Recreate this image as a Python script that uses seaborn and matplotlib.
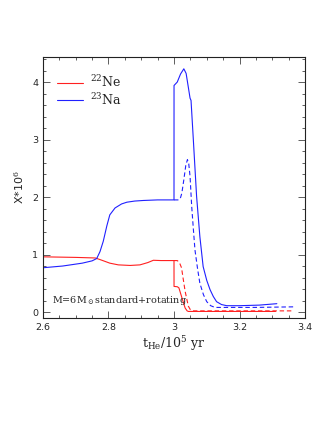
import matplotlib
matplotlib.use("Agg")
import matplotlib.pyplot as plt
import seaborn as sns
import pandas as pd
from matplotlib.ticker import MultipleLocator

sns.set_style("ticks")
plt.rcParams['font.family'] = ['DejaVu Sans']
plt.rcParams['mathtext.fontset'] = 'dejavuserif'

# Data
ne_std_x = [2.60, 2.70, 2.76, 2.78, 2.804, 2.83, 2.866, 2.896, 2.92, 2.937, 2.96, 3.000, 3.0001, 3.010, 3.015, 3.023, 3.030, 3.034, 3.040, 3.044, 3.06, 3.10, 3.20, 3.31]
ne_std_y = [0.96, 0.95, 0.94, 0.90, 0.85, 0.82, 0.81, 0.82, 0.86, 0.90, 0.895, 0.895, 0.445, 0.44, 0.42, 0.27, 0.14, 0.07, 0.02, 0.01, 0.01, 0.01, 0.01, 0.01]

ne_rot_x = [3.000, 3.010, 3.013, 3.018, 3.023, 3.028, 3.034, 3.040, 3.044, 3.050, 3.056, 3.08, 3.15, 3.25, 3.36]
ne_rot_y = [0.895, 0.895, 0.88, 0.84, 0.77, 0.58, 0.36, 0.20, 0.10, 0.04, 0.02, 0.02, 0.02, 0.02, 0.02]

na_std_x = [2.60, 2.66, 2.72, 2.75, 2.764, 2.774, 2.784, 2.795, 2.804, 2.82, 2.84, 2.856, 2.88, 2.906, 2.95, 3.000, 3.0001, 3.010, 3.020, 3.030, 3.037, 3.044, 3.049, 3.052, 3.059, 3.069, 3.079, 3.089, 3.10, 3.11, 3.12, 3.13, 3.145, 3.161, 3.20, 3.26, 3.314]
na_std_y = [0.77, 0.80, 0.85, 0.89, 0.93, 1.05, 1.23, 1.50, 1.69, 1.81, 1.88, 1.91, 1.93, 1.94, 1.95, 1.95, 3.94, 4.00, 4.14, 4.23, 4.15, 3.90, 3.72, 3.68, 3.00, 2.01, 1.31, 0.79, 0.55, 0.39, 0.27, 0.18, 0.13, 0.11, 0.11, 0.12, 0.145]

na_rot_x = [3.000, 3.015, 3.020, 3.024, 3.030, 3.036, 3.041, 3.045, 3.049, 3.054, 3.059, 3.064, 3.072, 3.079, 3.090, 3.100, 3.112, 3.125, 3.15, 3.25, 3.364]
na_rot_y = [1.95, 1.95, 1.99, 2.07, 2.30, 2.55, 2.65, 2.58, 2.36, 1.84, 1.45, 1.08, 0.75, 0.50, 0.30, 0.18, 0.11, 0.08, 0.08, 0.08, 0.09]

red = '#ff2020'
blue = '#2020ff'

fig = plt.figure(figsize=(3.32, 4.30), dpi=100)
ax = fig.add_axes([0.1295, 0.261, 0.7892, 0.6057])

sns.lineplot(x=ne_std_x, y=ne_std_y, ax=ax, color=red, lw=0.8, sort=False, estimator=None, label=r'$^{22}$Ne')
sns.lineplot(x=na_std_x, y=na_std_y, ax=ax, color=blue, lw=0.8, sort=False, estimator=None, label=r'$^{23}$Na')
sns.lineplot(x=ne_rot_x, y=ne_rot_y, ax=ax, color=red, lw=0.8, sort=False, estimator=None)
sns.lineplot(x=na_rot_x, y=na_rot_y, ax=ax, color=blue, lw=0.8, sort=False, estimator=None)
ax.lines[2].set_linestyle((0, (4, 2.5)))
ax.lines[3].set_linestyle((0, (4, 2.5)))

ax.set_xlim(2.6, 3.4)
ax.set_ylim(-0.1, 4.43)
ax.xaxis.set_major_locator(MultipleLocator(0.2))
ax.xaxis.set_minor_locator(MultipleLocator(0.05))
ax.yaxis.set_major_locator(MultipleLocator(1))
ax.yaxis.set_minor_locator(MultipleLocator(0.2))
ax.set_xticks([2.6, 2.8, 3.0, 3.2, 3.4])
ax.set_xticklabels(['2.6', '2.8', '3', '3.2', '3.4'])
ax.tick_params(which='both', direction='in', top=True, right=True, labelsize=6.8, width=0.6, color='#444444')
ax.tick_params(which='major', length=5)
ax.tick_params(which='minor', length=2.5)
for s in ax.spines.values():
    s.set_linewidth(0.8)
    s.set_color('#222222')

ax.set_xlabel(r'$\rm t_{He}/10^5\ yr$', fontsize=9, labelpad=2)
ax.set_ylabel(r'X*10$^6$', fontsize=8, labelpad=4)

leg = ax.legend(loc='upper left', frameon=False, fontsize=9, handlelength=2.1,
                bbox_to_anchor=(0.035, 0.955), borderaxespad=0, labelspacing=0.15, handletextpad=0.55)
for t in leg.get_texts():
    t.set_family('DejaVu Serif')

ax.text(0.035, 0.04, r'M=6M$_\odot$standard+rotating', transform=ax.transAxes,
        fontsize=6.9, family='DejaVu Serif', ha='left', va='bottom')

fig.savefig('out.png', dpi=100)
